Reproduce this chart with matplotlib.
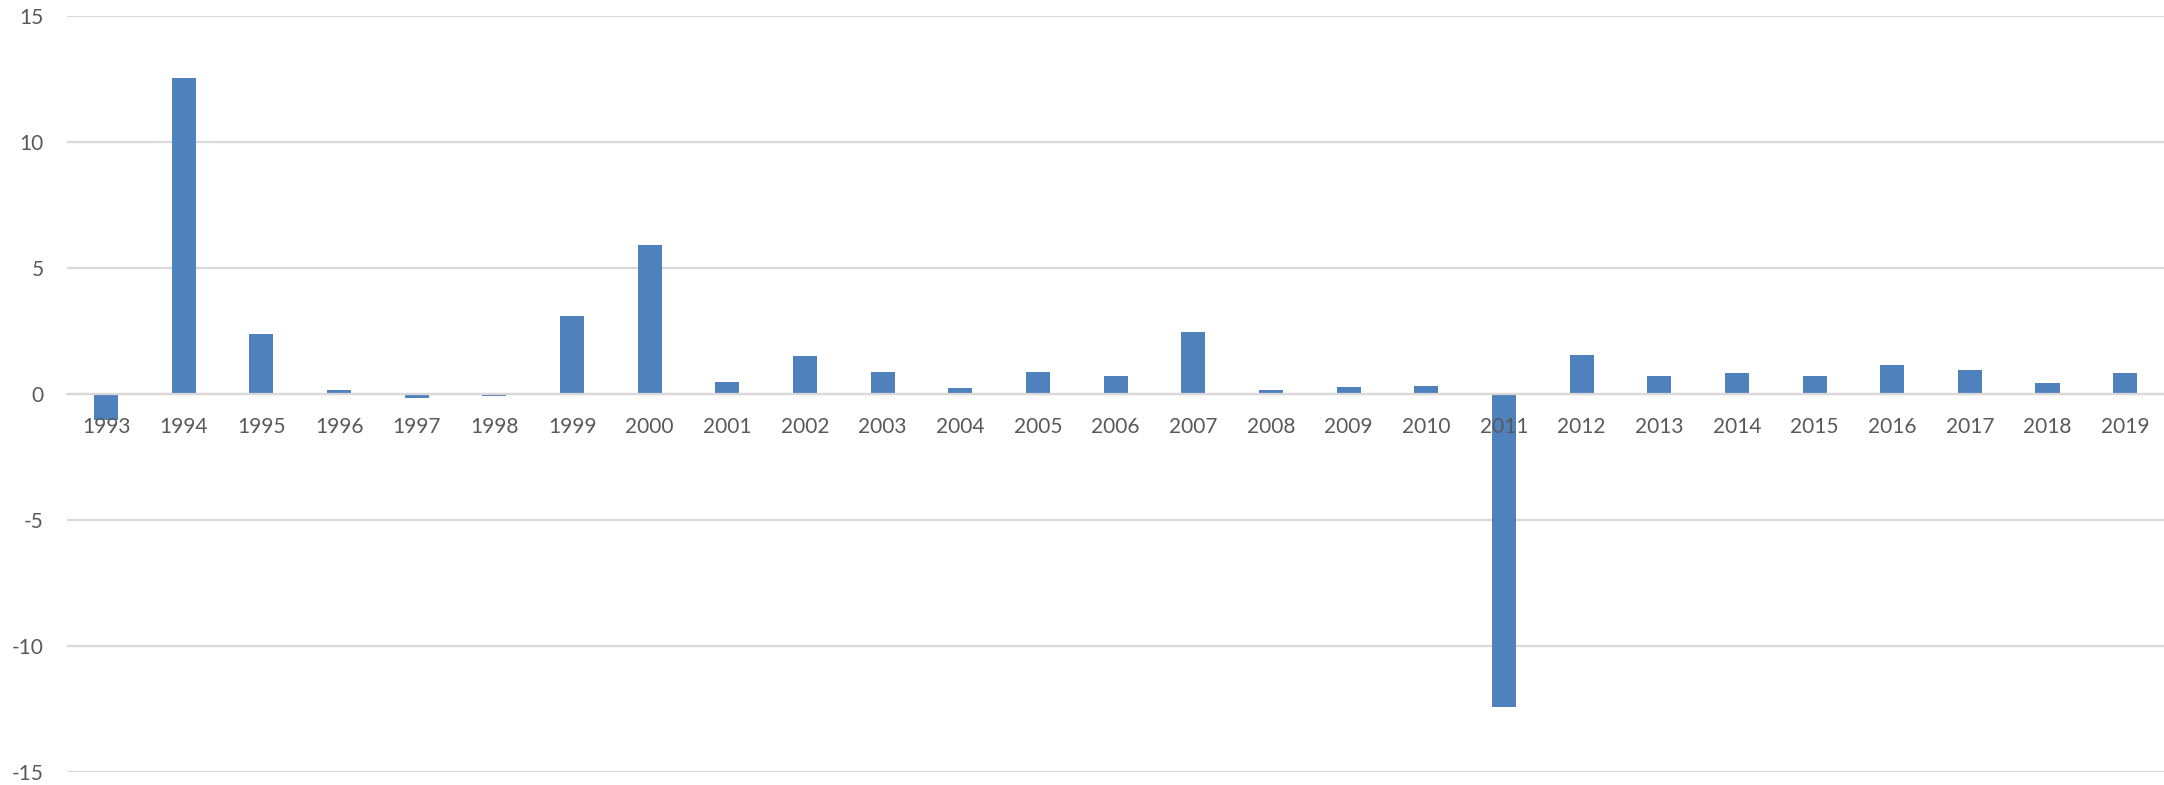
import matplotlib
matplotlib.use('Agg')
import matplotlib.pyplot as plt
import numpy as np

# ----------
# Data
# ----------
years = [str(y) for y in range(1993, 2020)]
values = [-1.05, 12.52, 2.38, 0.15, -0.17, -0.08, 3.10, 5.89, 0.45,
          1.49, 0.86, 0.22, 0.85, 0.69, 2.46, 0.13, 0.28, 0.30,
          -12.44, 1.55, 0.70, 0.81, 0.70, 1.14, 0.94, 0.41, 0.83]
y_ticks = [-15, -10, -5, 0, 5, 10, 15]

plt.rcParams['font.family'] = ['Lato', 'DejaVu Sans']

fig = plt.figure(figsize=(21.64, 7.85), dpi=100)
ax = fig.add_axes([0.0311, 0.017, 0.9689, 0.963])

x = np.arange(len(years))
ax.bar(x, values, width=0.31, color='#4F81BD', zorder=3)

ax.set_xlim(-0.5, len(years) - 0.5)
ax.set_ylim(-15, 15)
ax.set_yticks(y_ticks)
ax.set_yticklabels([str(v) for v in y_ticks])
ax.set_xticks(x)
ax.set_xticklabels(years)

# gridlines only, axis labels sit on the zero line
ax.grid(axis='y', color='#d9d9d9', linewidth=1.6)
ax.yaxis.set_zorder(0.5)
ax.xaxis.set_zorder(5)  # year labels drawn over the bars (see 2011)
for s in ['top', 'right', 'left']:
    ax.spines[s].set_visible(False)
ax.spines['bottom'].set_position(('data', 0))
ax.spines['bottom'].set_color('#d9d9d9')
ax.spines['bottom'].set_linewidth(1.6)
ax.spines['bottom'].set_zorder(4)

ax.tick_params(axis='x', length=0, pad=17, labelsize=15, labelcolor='#595959')
ax.tick_params(axis='y', length=0, pad=17, labelsize=15, labelcolor='#595959')

fig.savefig('out.png', dpi=100, facecolor='white')
plt.close()
